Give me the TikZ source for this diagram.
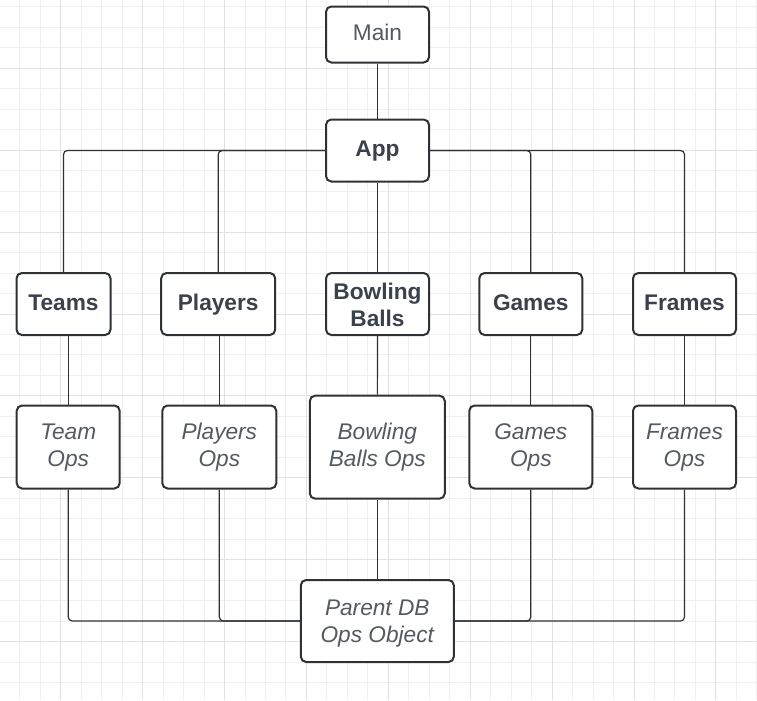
\documentclass[tikz,border=0pt]{standalone}
\usepackage{fontspec}
\setmainfont{Liberation Sans}
\definecolor{boxline}{HTML}{2E3136}
\definecolor{darktxt}{HTML}{3A414A}
\definecolor{greytxt}{HTML}{545A62}
\definecolor{gridminor}{HTML}{F0F0F0}
\definecolor{gridmajor}{HTML}{E2E2E2}

\begin{document}
\begin{tikzpicture}[x = 0.75pt, y = -0.75pt,
		box/.style = {draw = boxline, line width = 1.5pt, rounded corners = 4pt, fill = white, align = center, inner sep = 0pt, text height = 12.5pt, text depth = 3.5pt, font = \fontsize{17}{20}\selectfont},
		boxsize/.style 2 args = {minimum width = #1*0.75pt, minimum height = #2*0.75pt},
		twoline/.style = {text height = #1},
		twoline/.default = 32.5pt,
		head/.style = {box, text = darktxt, font = \fontsize{17}{20}\selectfont\bfseries},
		ops/.style = {box, text = greytxt, font = \fontsize{17}{20}\selectfont\itshape},
		conn/.style = {draw = boxline, line width = 0.9pt, rounded corners = 3pt}]
		\useasboundingbox (0,0) rectangle (757,700);
		
		% grid
		\foreach \i in {1,...,37}
			\draw[gridminor, line width = 0.75pt] (-0.7+20.475*\i,0) -- (-0.7+20.475*\i,700);
		\foreach \j in {0,...,33}
			\draw[gridminor, line width = 0.75pt] (0,6.875+20.475*\j) -- (757,6.875+20.475*\j);
		\foreach \k in {0,...,8}
			\draw[gridmajor, line width = 0.75pt] (60.7+81.9*\k,0) -- (60.7+81.9*\k,700);
		\foreach \k in {0,...,7}
			\draw[gridmajor, line width = 0.75pt] (0,68.3+81.9*\k) -- (757,68.3+81.9*\k);
		
		\node[box, boxsize = {103}{56}, text = greytxt] (main) at (377.5,34.5) {Main};
		\node[head, boxsize = {103}{62}] (app) at (377.5,150.5) {App};
		
		\node[head, boxsize = {94}{62}] (teams) at (63.5,304) {Teams};
		\node[head, boxsize = {114}{62}] (players) at (218.2,304) {Players};
		\node[head, boxsize = {103}{62}, twoline = 37pt] (balls) at (377.5,304) {Bowling\\Balls};
		\node[head, boxsize = {103}{62}] (games) at (530.8,304) {Games};
		\node[head, boxsize = {103}{62}] (frames) at (684.5,304) {Frames};
		
		\node[ops, boxsize = {103}{83}, twoline] (teamops) at (68.2,447) {Team\\Ops};
		\node[ops, boxsize = {114}{83}, twoline] (playerops) at (219.3,447) {Players\\Ops};
		\node[ops, boxsize = {135}{103}, twoline] (ballops) at (377.3,447.2) {Bowling\\Balls Ops};
		\node[ops, boxsize = {123}{83}, twoline] (gameops) at (530.8,447) {Games\\Ops};
		\node[ops, boxsize = {103}{83}, twoline] (frameops) at (684.5,447) {Frames\\Ops};
		
		\node[ops, boxsize = {153}{82}, twoline = 35pt] (parent) at (377.3,621) {Parent DB\\Ops Object};
		
		\draw[conn] (main) -- (app);
		\draw[conn] (app) -| (teams);
		\draw[conn] (app) -| (players);
		\draw[conn] (app) -- (balls);
		\draw[conn] (app) -| (games);
		\draw[conn] (app) -| (frames);
		
		\draw[conn] (teamops) -- (teamops |- teams.south);
		\draw[conn] (playerops) -- (playerops |- players.south);
		\draw[conn] (balls) -- (ballops);
		\draw[conn] (gameops) -- (games);
		\draw[conn] (frameops) -- (frameops |- frames.south);
		
		\draw[conn] (teamops) |- (parent);
		\draw[conn] (playerops) |- (parent);
		\draw[conn] (ballops) -- (parent);
		\draw[conn] (gameops) |- (parent);
		\draw[conn] (frameops) |- (parent);
	\end{tikzpicture}
\end{document}
